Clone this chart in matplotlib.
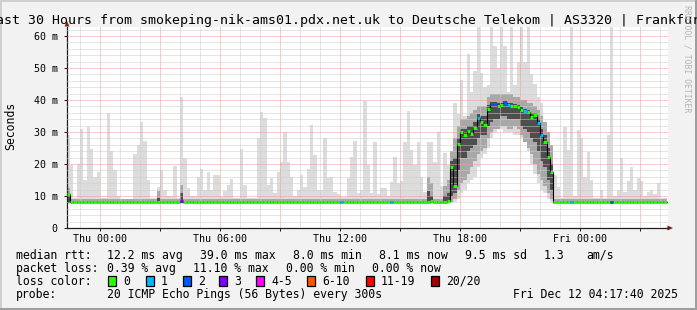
import numpy as np
import matplotlib
matplotlib.use('Agg')
import matplotlib.pyplot as plt
from matplotlib.patches import Rectangle, Polygon

W, H = 697, 310
MONO = 'DejaVu Sans Mono'

title = "Last 30 Hours from smokeping-nik-ams01.pdx.net.uk to Deutsche Telekom | AS3320 | Frankfurt"

# 10 minute bins, first bin starts Wed 22:20 (hours counted from Thu 00:00)
start_hour = -1 - 40 / 60
bin_hours = 1 / 6

# max ping per bin (ms)
rtt_max = [
    29, 19.7, 9.3, 20, 31, 15, 31.6, 24.7, 16, 17.6,
    9.3, 9.3, 35.8, 24, 18, 10, 8.8, 8.8, 9, 9,
    23, 26, 33.2, 27.2, 15, 9.3, 9.3, 12.9, 18, 12,
    10, 10, 19.5, 9.3, 41, 22, 12.4, 10, 10, 16,
    18.4, 12, 17.6, 12, 16.5, 16.5, 9.7, 11.7, 13.4, 15.3,
    9.3, 9.3, 24.7, 13.4, 9.3, 9.3, 9.5, 28, 36.1, 34.3,
    13.4, 15.5, 11, 17.6, 20.7, 30.1, 20.5, 16, 10, 12,
    16.5, 12.9, 18.4, 32.2, 22.8, 12, 12, 28, 15.5, 16,
    11.4, 10.5, 9.7, 9.7, 15.5, 22.3, 27.2, 11, 12, 39.7,
    19.7, 11, 26.8, 10.5, 12.4, 12.4, 10, 14.5, 22.3, 14,
    14.7, 26.8, 36.4, 24.4, 19.7, 27, 16, 11.4, 27, 27,
    20.7, 29.9, 13, 23.3, 19.7, 21, 39, 35.5, 46.3, 35,
    54.3, 42.6, 48.9, 63, 48.3, 44, 44.7, 63, 57, 50,
    63, 57, 42.6, 63, 44.7, 52, 63, 52, 63, 48,
    45, 41, 39, 32.2, 30, 21.8, 16.5, 12.9, 9.5, 31.6,
    24.4, 63, 10, 30.6, 28, 16, 23.7, 15, 9.5, 9.5,
    12, 9.3, 29, 63, 10, 12, 22, 11.4, 14.7, 19.2,
    12, 15.5, 14.7, 10, 11.4, 12, 10.5, 14, 9.5, 9.5,
]

# median rtt per bin (ms)
rtt_med = [
    10.5, 8.2, 8.1, 8.1, 8.2, 8.2, 8.1, 8.1, 8.2, 8.2,
    8.1, 8.1, 8.1, 8.2, 8.1, 8.1, 8.1, 8.1, 8.2, 8.2,
    8.1, 8.2, 8.1, 8.1, 8.2, 8.1, 8.1, 8.1, 8.1, 8.2,
    8.1, 8.1, 8.1, 8.1, 8.3, 8.1, 8.2, 8.1, 8.2, 8.1,
    8.1, 8.2, 8.1, 8.1, 8.2, 8.1, 8.1, 8.1, 8.2, 8.1,
    8.1, 8.1, 8.1, 8.2, 8.1, 8.1, 8.1, 8.2, 8.1, 8.1,
    8.1, 8.2, 8.1, 8.1, 8.1, 8.2, 8.1, 8.1, 8.2, 8.1,
    8.1, 8.1, 8.2, 8.2, 8.1, 8.1, 8.1, 8.2, 8.1, 8.1,
    8.1, 8.1, 8.2, 8.1, 8.1, 8.1, 8.2, 8.1, 8.1, 8.1,
    8.1, 8.2, 8.1, 8.1, 8.1, 8.2, 8.1, 8.2, 8.1, 8.1,
    8.1, 8.2, 8.1, 8.1, 8.2, 8.1, 8.1, 8.1, 8.2, 8.3,
    8.1, 8.1, 8.2, 8.2, 8.3, 19, 13, 26.2, 30, 29,
    30.3, 29.5, 31.1, 34.5, 33.2, 32.2, 37.3, 38.8, 38.8, 38.1,
    38.4, 39, 38.4, 38, 38, 37.7, 36.9, 36.4, 36.2, 34.8,
    35.3, 32.7, 29, 27, 22.3, 17.6, 8.1, 8.1, 8.2, 8.1,
    8.1, 8.1, 8.1, 8.2, 8.1, 8.1, 8.1, 8.2, 8.1, 8.1,
    8.1, 8.2, 8.1, 8.1, 8.1, 8.2, 8.1, 8.1, 8.1, 8.2,
    8.1, 8.1, 8.1, 8.1, 8.2, 8.1, 8.1, 8.1, 8.1, 8.1,
]

# smoke spread during the evening hump (bins 115..145)
hump_first = 115
hump_min = [7.8, 8, 9, 11, 12, 14, 15, 16, 19, 22, 23, 25, 28, 30, 31, 31,
            30, 30, 30, 29, 29, 28, 27, 24, 20, 17, 14, 12, 11, 9, 8]
hump_p10 = [8, 9, 12, 14, 15, 17, 19, 21, 23, 24, 25, 28, 30, 31, 31, 32,
            32, 31, 31, 32, 31, 29, 27, 25, 23, 20, 17, 15, 13, 11, 9]
hump_p25 = [10, 11, 18, 22, 22, 24, 25, 26, 28, 29, 29, 32, 33, 34, 34, 35,
            35, 34, 34, 34, 34, 32, 31, 30, 28, 27, 24, 21, 19, 15, 12]
hump_p75 = [21, 22, 28, 31, 31, 32, 32, 33, 35.5, 35, 35, 38.5, 39.5, 39.5, 39, 39.2,
            39.8, 39.2, 39, 38.8, 38.5, 37.8, 37.3, 37, 36, 36, 34, 31, 29, 25, 20]
hump_p90 = [24, 28, 32, 34, 34, 35, 36, 37, 38, 38, 38, 41, 42, 42, 42, 42,
            42, 42, 42, 41, 41, 40, 40, 39, 39, 38, 37, 35, 33, 30, 26]

base_min, base_p10, base_p25, base_p75, base_p90 = 7.6, 7.8, 7.9, 8.4, 9.2
# darker smoke spots on the baseline: bin -> (p75, p90)
base_dark = {0: (11.0, 12.5), 27: (9.5, 11.5), 34: (11.0, 13.5), 108: (11.5, 16.0),
             109: (10.0, 14.0), 113: (10.0, 13.0), 114: (11.0, 15.0)}

# lost pings (of 20) per bin, all other bins 0
loss_counts = {34: 3, 82: 1, 97: 1, 123: 1, 127: 2, 128: 2, 131: 2, 132: 1,
               137: 1, 141: 1, 142: 1, 151: 1, 163: 2}

loss_colors = ['#26ff00', '#00b8ff', '#0059ff', '#7e00ff', '#ff00ff', '#ff5500', '#ff0000', '#a10000']
loss_labels = ['0', '1', '2', '3', '4-5', '6-10', '11-19', '20/20']

x_ticks = [0, 6, 12, 18, 24]
x_labels = ['Thu 00:00', 'Thu 06:00', 'Thu 12:00', 'Thu 18:00', 'Fri 00:00']
y_ticks = [0, 10, 20, 30, 40, 50, 60]
y_labels = ['0', '10 m', '20 m', '30 m', '40 m', '50 m', '60 m']

legend_rows = [
    [("median rtt:", 16), ("12.2 ms avg", 107), ("39.0 ms max", 200), ("8.0 ms min", 293),
     ("8.1 ms now", 379), ("9.5 ms sd", 465), ("1.3", 544), ("am/s", 586)],
    [("packet loss:", 16), ("0.39 % avg", 107), ("11.10 % max", 193), ("0.00 % min", 286),
     ("0.00 % now", 372)],
    [("loss color:", 16)],
    [("probe:", 16), ("20 ICMP Echo Pings (56 Bytes) every 300s", 107),
     ("Fri Dec 12 04:17:40 2025", 513)],
]
legend_base = [259, 272, 285, 298]
box_x = [108, 146, 183, 219, 256, 307, 366, 431]


def loss_class(n):
    if n <= 3:
        return n
    if n <= 5:
        return 4
    if n <= 10:
        return 5
    if n <= 19:
        return 6
    return 7


def fx(x):
    return x / W


def fy(y):
    return 1 - y / H


# %%
n = len(rtt_max)
hi = np.array(rtt_max, dtype=float)
med = np.array(rtt_med, dtype=float)
lo = np.full(n, base_min)
p10 = np.full(n, base_p10)
p25 = np.full(n, base_p25)
p75 = np.full(n, base_p75)
p90 = np.full(n, base_p90)
sl = slice(hump_first, hump_first + len(hump_min))
lo[sl], p10[sl], p25[sl], p75[sl], p90[sl] = hump_min, hump_p10, hump_p25, hump_p75, hump_p90
for b, (a75, a90) in base_dark.items():
    p75[b], p90[b] = a75, a90

edges = start_hour + np.arange(n + 1) * bin_hours


def stairs(v):
    return np.append(v, v[-1])


fig = plt.figure(figsize=(W / 100, H / 100), dpi=100, facecolor='#f2f2f2')
ax = fig.add_axes([fx(67), 82 / H, 601 / W, 201 / H])
ax.set_facecolor('white')

ax.fill_between(edges, stairs(lo), stairs(hi), step='post', color='#dcdcdc', lw=0, zorder=1)
ax.fill_between(edges, stairs(p10), stairs(p90), step='post', color='#a8a8a8', lw=0, zorder=1.1)
ax.fill_between(edges, stairs(p25), stairs(p75), step='post', color='#4e4e4e', lw=0, zorder=1.2)

ax.step(edges, stairs(med), where='post', color='black', lw=0.8, zorder=4)
seg_colors = [loss_colors[loss_class(loss_counts.get(i, 0))] for i in range(n)]
ax.hlines(med, edges[:-1], edges[1:], colors=seg_colors, lw=2.2, zorder=5)

ax.set_xlim(-1.65, 28.4)
ax.set_ylim(0, 62.8)

ax.set_xticks(np.arange(0, 28, 3))
ax.set_xticklabels([x_labels[x_ticks.index(t)] if t in x_ticks else '' for t in np.arange(0, 28, 3)])
ax.set_xticks(np.arange(-1, 29, 1), minor=True)
ax.set_yticks(y_ticks)
ax.set_yticklabels(y_labels)
ax.set_yticks(np.arange(0, 63, 2), minor=True)

ax.grid(which='major', color='#ec9a9a', lw=0.72, ls=(0, (1, 1)))
ax.grid(which='minor', color='#cdcdcd', lw=0.72, ls=(0, (1, 1)))
ax.set_axisbelow(False)

ax.tick_params(which='major', length=2, width=0.72, color='#1f1f1f', labelsize=7.2)
ax.tick_params(which='minor', length=0)
ax.tick_params(axis='y', pad=4.8)
ax.tick_params(axis='x', pad=2.2)
for lab in ax.get_xticklabels() + ax.get_yticklabels():
    lab.set_family(MONO)

for s in ['top', 'right']:
    ax.spines[s].set_visible(False)
for s in ['left', 'bottom']:
    ax.spines[s].set_color('#1f1f1f')
    ax.spines[s].set_linewidth(0.9)

# axis arrows
arrow_col = '#801f1f'
fig.patches.append(Polygon([(fx(64.5), fy(26.5)), (fx(69.5), fy(26.5)), (fx(67), fy(21))],
                           closed=True, transform=fig.transFigure, color=arrow_col, lw=0))
fig.patches.append(Polygon([(fx(667.5), fy(225.5)), (fx(667.5), fy(230.5)), (fx(673), fy(228))],
                           closed=True, transform=fig.transFigure, color=arrow_col, lw=0))
fig.lines.append(plt.Line2D([fx(667), fx(668)], [fy(228), fy(228)], transform=fig.transFigure,
                            color='#1f1f1f', lw=0.9))

# frame shading
fig.patches.append(Rectangle((0, fy(2)), 1, 2 / H, transform=fig.transFigure, color='#cfcfcf', lw=0))
fig.patches.append(Rectangle((0, 0), fx(2), 1, transform=fig.transFigure, color='#cfcfcf', lw=0))
fig.patches.append(Rectangle((0, 0), 1, 2 / H, transform=fig.transFigure, color='#9e9e9e', lw=0))
fig.patches.append(Rectangle((fx(695), 0), fx(2), 1, transform=fig.transFigure, color='#9e9e9e', lw=0))

fig.text(0.5, fy(24), title, ha='center', va='baseline', fontsize=9.5, family=MONO)
fig.text(fx(11), fy(126), 'Seconds', rotation=90, ha='center', va='center', fontsize=8.3, family=MONO)
fig.text(fx(687), fy(59), 'RRDTOOL / TOBI OETIKER', rotation=270, ha='center', va='center',
         fontsize=5.9, family=MONO, color='#b4b4b4')

for row, base in zip(legend_rows, legend_base):
    for txt, x in row:
        fig.text(fx(x), fy(base), txt, ha='left', va='baseline', fontsize=8.3, family=MONO)

for col, lab, x in zip(loss_colors, loss_labels, box_x):
    fig.patches.append(Rectangle((fx(x), fy(286)), 8 / W, 10 / H, transform=fig.transFigure,
                                 facecolor=col, edgecolor='black', lw=0.9))
    fig.text(fx(x + 15), fy(285), lab, ha='left', va='baseline', fontsize=8.3, family=MONO)

fig.savefig('out.png', dpi=100, facecolor=fig.get_facecolor())
